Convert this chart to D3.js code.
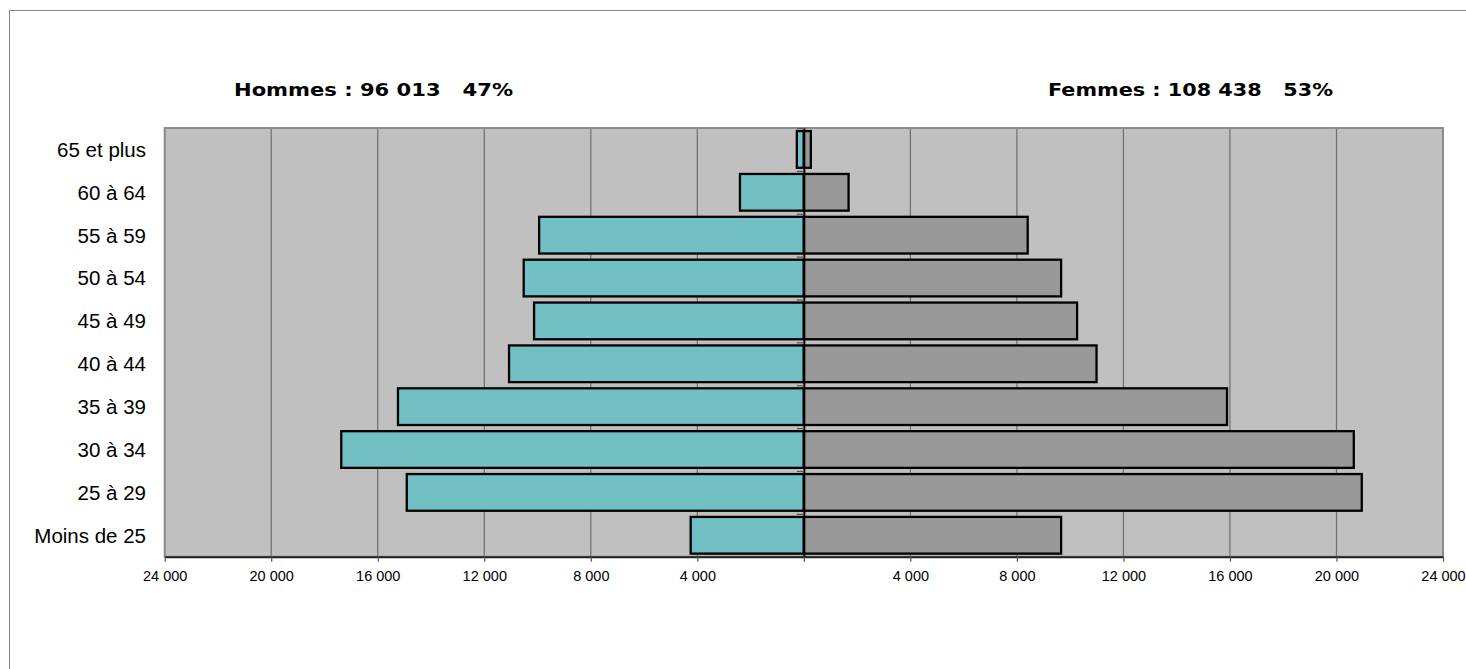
<!DOCTYPE html>
<html><head><meta charset="utf-8">
<script src="https://cdn.jsdelivr.net/npm/d3@7"></script>
<style>body{margin:0;background:#fff;} svg{display:block;}</style>
</head><body>
<script>
const categories = ["65 et plus","60 à 64","55 à 59","50 à 54","45 à 49","40 à 44","35 à 39","30 à 34","25 à 29","Moins de 25"];
const hommes = [263, 2400, 9940, 10520, 10130, 11070, 15240, 17370, 14910, 4250];
const femmes = [263, 1680, 8405, 9660, 10260, 10990, 15890, 20650, 20950, 9660];
const tickValues = [-24000,-20000,-16000,-12000,-8000,-4000,0,4000,8000,12000,16000,20000,24000];
const titleHommes = "Hommes : 96 013   47%";
const titleFemmes = "Femmes : 108 438   53%";

const W = 1466, H = 669;
const svg = d3.select("body").append("svg").attr("width", W).attr("height", H);

// outer frame
svg.append("rect").attr("x", 9.5).attr("y", 10.5).attr("width", 1470).attr("height", 680)
  .attr("fill", "none").attr("stroke", "#868686").attr("stroke-width", 1);

const L = 164.7, R = 1443, T = 128, B = 556.7;
const x = d3.scaleLinear().domain([-24000, 24000]).range([L, R]);
const y = d3.scaleBand().domain(categories).range([T, B]).paddingInner(0.144).paddingOuter(0.072);
const yb = d3.scaleLinear().domain([0, categories.length]).range([T, B]);

// plot background
svg.append("rect").attr("x", L).attr("y", T).attr("width", R - L).attr("height", B - T)
  .attr("fill", "#C0C0C0");

// gridlines
svg.append("g").selectAll("line").data(tickValues.filter(d => d !== 0)).join("line")
  .attr("x1", d => x(d)).attr("x2", d => x(d)).attr("y1", T).attr("y2", B)
  .attr("stroke", "#6e6e6e").attr("stroke-width", 1.2);

// plot border
svg.append("rect").attr("x", L).attr("y", T).attr("width", R - L).attr("height", B - T)
  .attr("fill", "none").attr("stroke", "#8c8c8c").attr("stroke-width", 2);

// bars
const h = y.bandwidth();
svg.append("g").selectAll("rect").data(categories).join("rect")
  .attr("x", (d, i) => x(-hommes[i])).attr("y", d => y(d))
  .attr("width", (d, i) => x(0) - x(-hommes[i])).attr("height", h)
  .attr("fill", "#72BFC4").attr("stroke", "#000").attr("stroke-width", 2.3);
svg.append("g").selectAll("rect").data(categories).join("rect")
  .attr("x", x(0)).attr("y", d => y(d))
  .attr("width", (d, i) => x(femmes[i]) - x(0)).attr("height", h)
  .attr("fill", "#999999").attr("stroke", "#000").attr("stroke-width", 2.3);

// central category axis with small ticks at band boundaries
const yAxis = svg.append("g").attr("transform", `translate(${x(0)},0)`)
  .call(d3.axisLeft(yb).tickValues(d3.range(0, categories.length + 1)).tickFormat("").tickSize(7).tickSizeOuter(0));
yAxis.select(".domain").attr("stroke", "#000").attr("stroke-width", 2);
yAxis.selectAll(".tick line").attr("stroke", "#555").attr("stroke-width", 1.2);

// category labels (low position)
svg.append("g").selectAll("text").data(categories).join("text")
  .attr("x", 146).attr("y", d => y(d) + h / 2)
  .attr("dy", "0.36em").attr("text-anchor", "end")
  .attr("font-family", "Liberation Sans, Arial, sans-serif").attr("font-size", 20.5)
  .attr("fill", "#000").text(d => d);

// bottom axis
const fmt = v => v === 0 ? "" : d3.format(",")(Math.abs(v)).replace(/,/g, " ");
const xAxis = svg.append("g").attr("transform", `translate(0,${B})`)
  .call(d3.axisBottom(x).tickValues(tickValues).tickFormat(fmt).tickSize(5).tickSizeOuter(0));
xAxis.select(".domain").attr("stroke", "#222").attr("stroke-width", 2);
xAxis.selectAll(".tick line").attr("stroke", "#555").attr("stroke-width", 1.2);
xAxis.selectAll(".tick text").attr("font-family", "Liberation Sans, Arial, sans-serif")
  .attr("font-size", 14.5).attr("fill", "#000").attr("dy", 16.3);

// headers
svg.append("text").attr("x", 234).attr("y", 96)
  .attr("font-family", "DejaVu Sans, Verdana, sans-serif").attr("font-weight", "bold")
  .attr("font-size", 18).attr("textLength", 279).attr("lengthAdjust", "spacingAndGlyphs")
  .attr("xml:space", "preserve").style("white-space", "pre").text(titleHommes);
svg.append("text").attr("x", 1048).attr("y", 96)
  .attr("font-family", "DejaVu Sans, Verdana, sans-serif").attr("font-weight", "bold")
  .attr("font-size", 18).attr("textLength", 285).attr("lengthAdjust", "spacingAndGlyphs")
  .attr("xml:space", "preserve").style("white-space", "pre").text(titleFemmes);
</script>
</body></html>
